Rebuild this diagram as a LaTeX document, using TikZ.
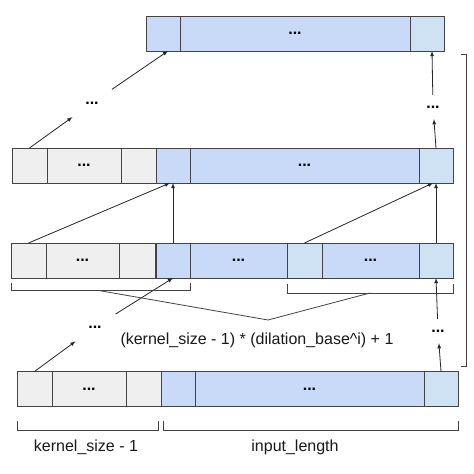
\documentclass[tikz,border=0pt]{standalone}
\usepackage{fontspec}
\setmainfont{Liberation Sans}
\definecolor{padgray}{HTML}{EFEFEF}
\definecolor{seqblue}{HTML}{C9DAF8}
\definecolor{outblue}{HTML}{CFE2F3}
\definecolor{edge}{HTML}{434343}
\tikzset{
    cell/.style={draw=edge, line width=0.9pt, rectangle, outer sep=0pt, inner sep=0pt,
                 minimum height=35pt, anchor=west, font=\fontsize{16}{19}\selectfont\bfseries},
    pad/.style={cell, fill=padgray},
    seq/.style={cell, fill=seqblue},
    last/.style={cell, fill=outblue},
    gap/.style={circle, inner sep=0pt, minimum size=#1, font=\fontsize{16}{19}\selectfont\bfseries},
    link/.style={->, >=latex, line width=0.8pt, draw=black!85},
    brace/.style={line width=0.8pt, draw=edge},
    lbl/.style={font=\fontsize{16}{19}\selectfont, text=black!90}
}
\begin{document}
\begin{tikzpicture}[x=1pt, y=-1pt]
    \useasboundingbox[fill=white] (0,0) rectangle (474,474);
    % output layer
    \node[seq, minimum width=34]  (a1) at (146,33.5) {};
    \node[seq, minimum width=230] (a2) at (180,33.5) {...};
    \node[last, minimum width=34] (a3) at (410,33.5) {};
    % hidden layer
    \node[pad, minimum width=35]  (b1) at (12,165.5) {};
    \node[pad, minimum width=74]  (b2) at (47,165.5) {...};
    \node[pad, minimum width=35]  (b3) at (121,165.5) {};
    \node[seq, minimum width=34]  (b4) at (156,165.5) {};
    \node[seq, minimum width=229] (b5) at (190,165.5) {...};
    \node[last, minimum width=34] (b6) at (419,165.5) {};
    % dilated layer
    \node[pad, minimum width=35]  (c1) at (11,260.5) {};
    \node[pad, minimum width=73]  (c2) at (46,260.5) {...};
    \node[pad, minimum width=36]  (c3) at (119,260.5) {};
    \node[seq, minimum width=34]  (c4) at (156,260.5) {};
    \node[seq, minimum width=97]  (c5) at (190,260.5) {...};
    \node[last, minimum width=35] (c6) at (287,260.5) {};
    \node[seq, minimum width=97]  (c7) at (322,260.5) {...};
    \node[last, minimum width=34] (c8) at (419,260.5) {};
    % input layer
    \node[pad, minimum width=35]  (d1) at (17,389) {};
    \node[pad, minimum width=74]  (d2) at (52,389) {...};
    \node[pad, minimum width=35]  (d3) at (126,389) {};
    \node[seq, minimum width=34]  (d4) at (161,389) {};
    \node[seq, minimum width=229] (d5) at (195,389) {...};
    \node[last, minimum width=34] (d6) at (424,389) {};
    % skipped layers
    \node[gap=48] (bl) at (92,103) {...};
    \node[gap=24] (br) at (433,107) {...};
    \node[gap=48] (dl) at (95,327) {...};
    \node[gap=24] (dr) at (438,331) {...};

    \draw[link] (d1.north) -- (dl);
    \draw[link] (dl) -- (c4.south);
    \draw[link] (d6.north) -- (dr);
    \draw[link] (dr) -- (c8.south);
    \draw[link] (c1.north) -- ([xshift=-3pt]b4.south);
    \draw[link] (c4.north) -- (b4.south);
    \draw[link] (c6.north) -- ([xshift=-3pt]b6.south);
    \draw[link] (c8.north) -- (b6.south);
    \draw[link] (b1.north) -- (bl);
    \draw[link] (bl) -- ([xshift=5pt]a1.south);
    \draw[link] (b6.north) -- (br);
    \draw[link] (br) -- ([xshift=5pt]a3.south);

    % receptive field
    \coordinate (apex) at (268,320);
    \draw[brace] (11,283) -- (11,290.7) -- (190,290.7) -- (190,283);
    \draw[brace] (287,284) -- (287,293) -- (453,293) -- (453,284);
    \draw[brace] (100,290.7) -- (apex) -- (370,293);
    \node[lbl] (field) at (257,340) {(kernel\_size - 1) * (dilation\_base\^{}i) + 1};

    % input sizes
    \draw[brace] (17,421) -- (17,430.7) -- (158,430.7) -- (158,421);
    \draw[brace] (163,421) -- (163,430.7) -- (458,430.7) -- (458,421);
    \node[lbl] (kern) at (86,447) {kernel\_size - 1};
    \node[lbl] (inlen) at (295,447) {input\_length};

    \draw[brace] (461,54) -- (466,54) -- (466,366.7) -- (461,366.7);
\end{tikzpicture}
\end{document}
